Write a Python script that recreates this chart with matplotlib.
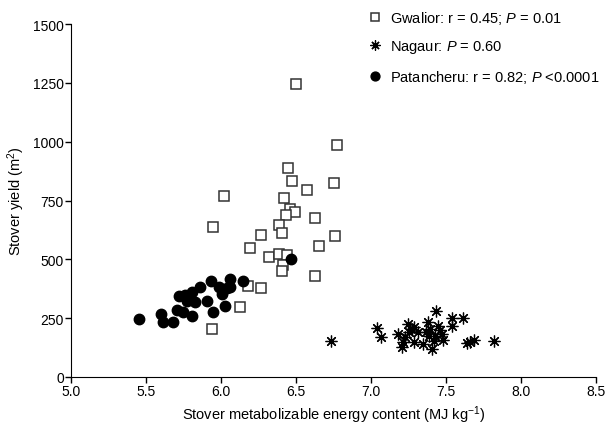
import matplotlib
matplotlib.use("Agg")
import matplotlib.pyplot as plt

plt.rcParams["font.family"] = ["Liberation Sans", "DejaVu Sans"]
plt.rcParams["mathtext.fontset"] = "custom"
plt.rcParams["mathtext.rm"] = "Liberation Sans"
plt.rcParams["mathtext.it"] = "Liberation Sans:italic"

# Gwalior
gw_x = [6.775, 6.447, 6.473, 6.751, 6.571, 6.02, 6.422, 6.46, 6.495, 6.431,
        6.627, 6.387, 5.947, 6.405, 6.762, 6.265, 6.655, 6.191, 6.32, 6.385,
        6.438, 6.411, 6.405, 6.625, 6.182, 6.267, 6.125, 5.94, 6.498]
gw_y = [986, 887, 832, 825, 793, 770, 760, 716, 703, 688,
        676, 645, 638, 614, 600, 604, 555, 549, 511, 524,
        518, 477, 450, 429, 385, 378, 296, 202, 1247]

# Nagaur
ng_x = [6.731, 7.04, 7.067, 7.178, 7.205, 7.215, 7.227, 7.245, 7.253, 7.287,
        7.287, 7.315, 7.345, 7.367, 7.378, 7.389, 7.405, 7.42, 7.433, 7.445,
        7.46, 7.471, 7.482, 7.538, 7.542, 7.609, 7.642, 7.66, 7.687, 7.818,
        7.271, 7.393, 7.427]
ng_y = [151, 207, 171, 184, 129, 150, 171, 226, 190, 211,
        147, 190, 140, 190, 235, 175, 119, 151, 282, 218,
        201, 183, 157, 215, 250, 250, 144, 147, 155, 154,
        204, 204, 175]

# Patancheru
pt_x = [5.453, 5.598, 5.615, 5.682, 5.705, 5.749, 5.805, 5.722, 5.76, 5.805,
        5.793, 5.827, 5.771, 5.86, 5.905, 5.931, 5.945, 5.989, 6.005, 6.038,
        6.027, 6.06, 6.06, 6.149, 6.469]
pt_y = [246, 268, 232, 235, 286, 275, 260, 345, 348, 360,
        334, 320, 324, 381, 324, 409, 275, 381, 352, 377,
        303, 416, 381, 409, 501]

labels = ["Gwalior: r = 0.45; $\\it{P}$ = 0.01",
          "Nagaur: $\\it{P}$ = 0.60",
          "Patancheru: r = 0.82; $\\it{P}$ <0.0001"]

fig = plt.figure(figsize=(6.16, 4.27), dpi=100)
ax = fig.add_axes([0.115, 0.115, 0.853, 0.826])

ax.plot(gw_x, gw_y, "s", ms=7.5, mfc="white", mec="#333333", mew=1.1,
        label=labels[0])
ax.plot(ng_x, ng_y, marker=(8, 2, 0), ls="none", ms=8.5, mec="black",
        mew=0.9, label=labels[1])
ax.plot(pt_x, pt_y, "o", ms=7.5, color="black", label=labels[2])

ax.set_xlim(5.0, 8.5)
ax.set_ylim(0, 1500)
ax.set_xticks([5.0, 5.5, 6.0, 6.5, 7.0, 7.5, 8.0, 8.5])
ax.set_yticks([0, 250, 500, 750, 1000, 1250, 1500])
ax.set_xticklabels(["5.0", "5.5", "6.0", "6.5", "7.0", "7.5", "8.0", "8.5"])
for s in ["top", "right"]:
    ax.spines[s].set_visible(False)
ax.tick_params(labelsize=10, length=4, width=1, pad=1)
ax.set_xlabel("Stover metabolizable energy content (MJ kg$^{-1}$)",
              fontsize=10.5, labelpad=4)
ax.set_ylabel("Stover yield (m$^{2}$)", fontsize=10.5, labelpad=4)

leg = ax.legend(loc="upper right", bbox_to_anchor=(1.03, 1.08), frameon=False,
                fontsize=10.5, handletextpad=0.4, labelspacing=0.85,
                markerscale=0.85, handlelength=1.2)

fig.savefig("out.png", dpi=100)
